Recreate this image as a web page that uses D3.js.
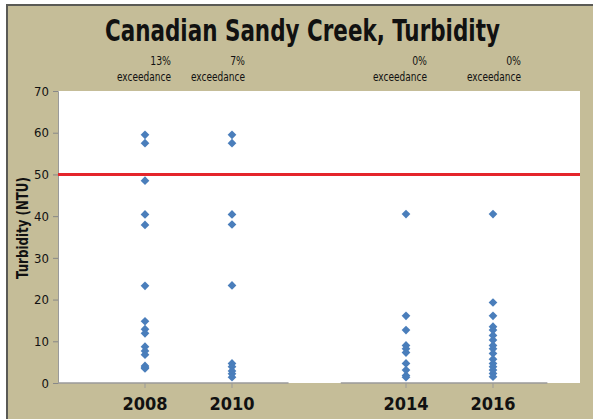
<!DOCTYPE html>
<html>
<head>
<meta charset="utf-8">
<script src="https://cdnjs.cloudflare.com/ajax/libs/d3/7.8.5/d3.min.js"></script>
<style>
  body { margin: 0; background: #fff; }
  svg text { font-family: "Liberation Sans Narrow", "DejaVu Sans Condensed", sans-serif; fill: #111; }
</style>
</head>
<body>
<svg id="chart" width="593" height="419"></svg>
<script>
  // data
  const years = [2008, 2010, 2014, 2016];
  const exceedance = ["13%", "7%", "0%", "0%"];
  const turb2008 = [59.5, 57.5, 48.5, 40.4, 37.9, 23.3, 14.8, 12.9, 11.9, 8.7, 7.7, 6.8, 4.1, 3.8, 3.5];
  const turb2010 = [59.5, 57.5, 40.4, 38.0, 23.4, 4.7, 3.9, 2.9, 2.2, 1.4];
  const turb2014 = [40.5, 16.1, 12.7, 9.0, 8.2, 7.3, 4.7, 3.1, 1.8, 1.4];
  const turb2016 = [40.5, 19.3, 16.1, 13.5, 12.7, 11.4, 10.3, 9.0, 8.2, 7.1, 5.7, 4.7, 3.9, 3.1, 2.3, 1.5];
  const yTicks = [0, 10, 20, 30, 40, 50, 60, 70];
  const standard = 50;

  const series = [turb2008, turb2010, turb2014, turb2016];
  const points = [];
  series.forEach((vals, i) => vals.forEach(v => points.push({ year: years[i], value: v })));

  const svg = d3.select("#chart");
  const margin = { top: 91, right: 13, bottom: 36, left: 58 };
  const width = 593 - margin.left - margin.right;
  const height = 419 - margin.top - margin.bottom;

  // squeeze a text horizontally to a given width (the original uses a condensed face)
  function fitWidth(sel, w) {
    sel.each(function() {
      const t = d3.select(this);
      const len = this.getComputedTextLength();
      const base = t.attr("transform") || "";
      t.attr("transform", `${base} scale(${w / len},1)`);
    });
  }

  // tan frame
  svg.append("rect")
    .attr("x", 7).attr("y", 5)
    .attr("width", 600).attr("height", 430)
    .attr("fill", "#c5bd98")
    .attr("stroke", "#5a5a55")
    .attr("stroke-width", 2);

  svg.append("text")
    .attr("transform", "translate(105,41)")
    .attr("font-size", 31)
    .attr("font-weight", "bold")
    .text("Canadian Sandy Creek, Turbidity")
    .call(fitWidth, 395);

  const g = svg.append("g")
    .attr("transform", `translate(${margin.left},${margin.top})`);

  const x = d3.scaleLinear().domain([2006, 2018]).range([0, width]);
  const y = d3.scaleLinear().domain([0, 70]).range([height, 0]);

  g.append("rect")
    .attr("width", width).attr("height", height)
    .attr("fill", "#fff");

  // y axis
  const yAxis = g.append("g")
    .call(d3.axisLeft(y).tickValues(yTicks).tickSize(5).tickPadding(4));
  yAxis.select(".domain").attr("stroke", "#9a9a9a");
  yAxis.selectAll(".tick line").attr("stroke", "#888");
  yAxis.selectAll("text")
    .attr("font-size", 13)
    .style("font-family", "\"Liberation Sans Narrow\", \"DejaVu Sans Condensed\", sans-serif")
    .attr("fill", "#222");

  // x axis drawn in two pieces like the original
  const axisSegments = [[2006, 2011.3], [2012.5, 2017.25]];
  g.selectAll(".xseg")
    .data(axisSegments)
    .enter().append("line")
      .attr("class", "xseg")
      .attr("x1", d => x(d[0])).attr("x2", d => x(d[1]))
      .attr("y1", height).attr("y2", height)
      .attr("stroke", "#9a9a9a")
      .attr("stroke-width", 1.5);

  g.selectAll(".xtick")
    .data(years)
    .enter().append("line")
      .attr("class", "xtick")
      .attr("x1", d => x(d)).attr("x2", d => x(d))
      .attr("y1", height).attr("y2", height + 5)
      .attr("stroke", "#999");

  g.selectAll(".xlabel")
    .data(years)
    .enter().append("text")
      .attr("class", "xlabel")
      .attr("x", d => x(d))
      .attr("y", height + 27)
      .attr("text-anchor", "middle")
      .attr("font-size", 18)
      .attr("font-weight", "bold")
      .text(d => d);

  // standard line
  g.append("line")
    .attr("x1", 0).attr("x2", width)
    .attr("y1", y(standard)).attr("y2", y(standard))
    .attr("stroke", "#e4252b")
    .attr("stroke-width", 3);

  // points
  const diamond = d3.symbol().type(d3.symbolSquare).size(38);
  g.selectAll(".pt")
    .data(points)
    .enter().append("path")
      .attr("class", "pt")
      .attr("d", diamond)
      .attr("transform", d => `translate(${x(d.year)},${y(d.value)}) rotate(45)`)
      .attr("fill", "#4a7ebb");

  // exceedance notes, right-aligned a little right of each year
  const labelDx = [26, 13, 21, 28];
  g.selectAll(".pct")
    .data(years)
    .enter().append("text")
      .attr("class", "pct")
      .attr("transform", (d, i) => `translate(${x(d) + labelDx[i]},-26) scale(0.8,1)`)
      .attr("text-anchor", "end")
      .attr("font-size", 13)
      .text((d, i) => exceedance[i]);
  g.selectAll(".exc")
    .data(years)
    .enter().append("text")
      .attr("class", "exc")
      .attr("transform", (d, i) => `translate(${x(d) + labelDx[i] - 54},-10)`)
      .attr("font-size", 13)
      .text("exceedance")
      .call(fitWidth, 54);

  svg.append("text")
    .attr("transform", "translate(28,228) rotate(-90) translate(-51,0)")
    .attr("font-size", 16)
    .attr("font-weight", "bold")
    .text("Turbidity (NTU)")
    .call(fitWidth, 102);
</script>
</body>
</html>
